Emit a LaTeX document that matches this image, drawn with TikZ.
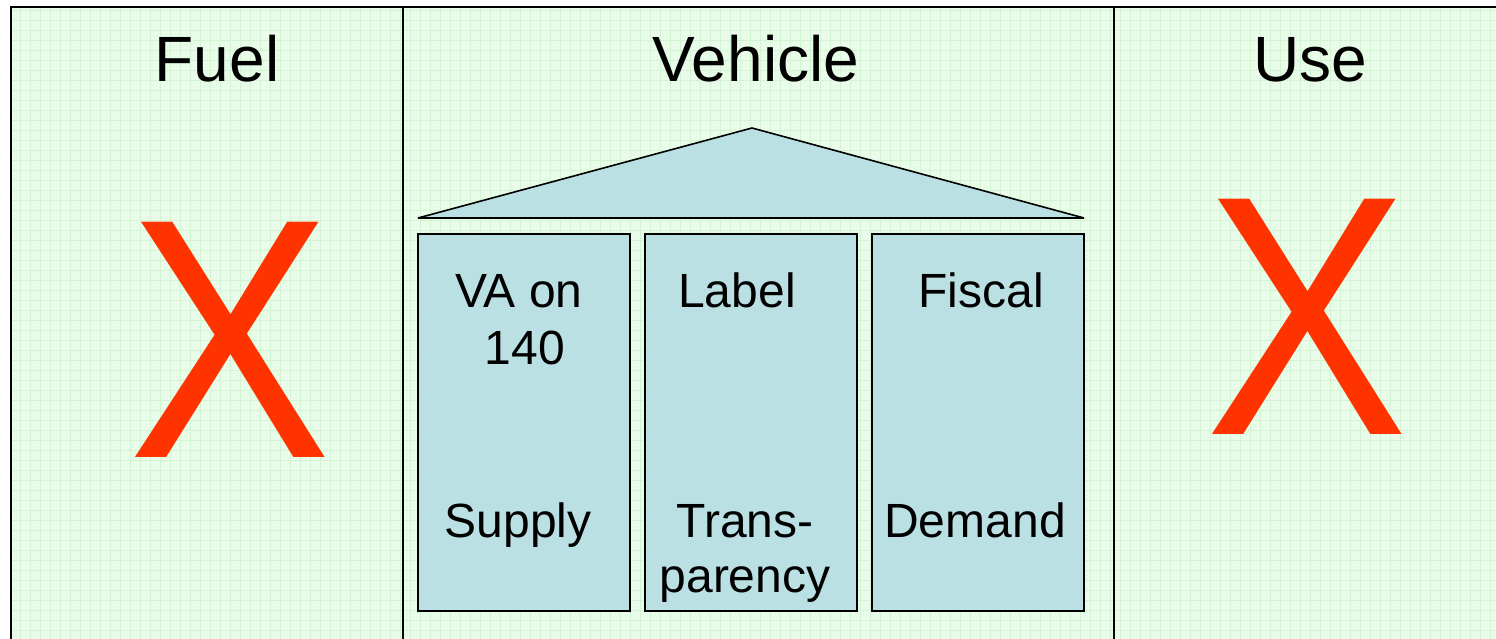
\documentclass[tikz,border=0pt]{standalone}
\usepackage{fontspec}
\setmainfont{Liberation Sans}
\definecolor{paper}{HTML}{E9FCE9}
\definecolor{paperline}{HTML}{D2F4D2}
\definecolor{pillarblue}{HTML}{BBE0E3}
\definecolor{crossred}{HTML}{FF3300}
\tikzset{
  frame/.style={line width=2pt, black},
  pillar/.style={draw, line width=2pt, fill=pillarblue, minimum width=212pt,
    minimum height=377pt, inner sep=0pt},
  head/.style={anchor=base, inner sep=0pt, font=\fontsize{64}{64}\selectfont},
  word/.style={anchor=base, inner sep=0pt, font=\fontsize{48}{48}\selectfont},
  cross/.style={inner sep=0pt, text=crossred, xscale=0.89,
    font=\fontsize{342}{342}\selectfont}
}
\begin{document}
\begin{tikzpicture}[x=1pt, y=-1pt]
  \useasboundingbox (0,0) rectangle (1496,639);

  % Draw the paper background with its fine grid
  \fill[paper] (11,7) rectangle (1496,639);
  \draw[paperline, line width=0.8pt, step=10pt] (11,7) grid (1496,639);

  % Draw the frame and the column dividers
  \draw[frame] (11,639) -- (11,7) -- (1496,7);
  \draw[frame] (403,7) -- (403,639);
  \draw[frame] (1114,7) -- (1114,639);

  % Column headings
  \node[head] (fuel) at (217,82) {Fuel};
  \node[head] (vehicle) at (756,82) {Vehicle};
  \node[head] (use) at (1310,82) {Use};

  % Draw the crosses
  \node[cross] (fuelx) at (230,340) {X};
  \node[cross] (usex) at (1307,317) {X};

  % Draw the roof
  \draw[line width=1.6pt, line join=bevel, fill=pillarblue]
    (418,218) -- (752,128) -- (1084,218) -- cycle;

  % Draw the three pillars
  \node[pillar] (supply) at (524,422.5) {};
  \node[pillar] (transp) at (751,422.5) {};
  \node[pillar] (demand) at (978,422.5) {};

  % Texts in the pillars
  \node[word] (vaon) at (519,307) {VA on};
  \node[word] (num) at (525,364) {140};
  \node[word] (supplyword) at (518,537) {Supply};
  \node[word] (labelword) at (737,307) {Label};
  \node[word] (trans) at (745,537) {Trans-};
  \node[word] (parency) at (745,592) {parency};
  \node[word] (fiscal) at (981,307) {Fiscal};
  \node[word] (demandword) at (975,537) {Demand};
\end{tikzpicture}
\end{document}
